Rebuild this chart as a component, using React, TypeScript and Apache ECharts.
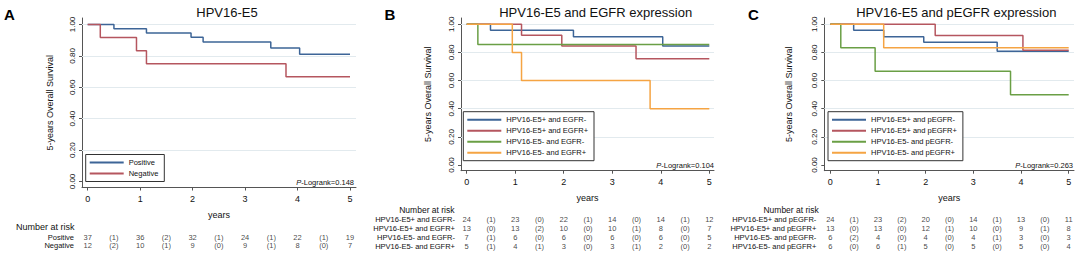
import React, { useEffect, useRef } from 'react';
import * as echarts from 'echarts';

const FONT = '"Liberation Sans", Arial, Helvetica, sans-serif';
const BLUE = '#3d6597';
const RED = '#b5565f';
const GREEN = '#6a9f45';
const ORANGE = '#f5a443';
const AXIS = '#555';
const TXT = '#111';

// ---- axis ticks ----
const xTickValues = [0, 1, 2, 3, 4, 5];
const yTickValues = [0, 0.2, 0.4, 0.6, 0.8, 1];
const gridLineValues = [0.2, 0.4, 0.6, 0.8, 1];

// ---- Panel A: HPV16-E5 ----
const aNames = ['Positive', 'Negative'];
const aPosTimes = [0, 0.5, 1.12, 1.97, 2.2, 3.49, 4.04, 5];
const aPosSurv = [1, 0.973, 0.946, 0.919, 0.889, 0.85, 0.81, 0.81];
const aNegTimes = [0, 0.24, 0.93, 1.12, 3.78, 5];
const aNegSurv = [1, 0.917, 0.833, 0.75, 0.667, 0.667];
const aPosAtRisk = [37, 36, 32, 24, 22, 19];
const aPosEvents = [1, 2, 1, 1, 1];
const aNegAtRisk = [12, 10, 9, 9, 8, 7];
const aNegEvents = [2, 1, 0, 1, 0];

// ---- Panel B: HPV16-E5 and EGFR expression ----
const bNames = ['HPV16-E5+ and EGFR-', 'HPV16-E5+ and EGFR+', 'HPV16-E5- and EGFR-', 'HPV16-E5- and EGFR+'];
const b1Times = [0, 0.49, 2.2, 4.04, 5];
const b1Surv = [1, 0.958, 0.912, 0.845, 0.845];
const b2Times = [0, 1.13, 1.96, 3.49, 5];
const b2Surv = [1, 0.923, 0.846, 0.755, 0.755];
const b3Times = [0, 0.23, 5];
const b3Surv = [1, 0.857, 0.857];
const b4Times = [0, 0.94, 1.13, 3.78, 5];
const b4Surv = [1, 0.8, 0.6, 0.4, 0.4];
const b1AtRisk = [24, 23, 22, 14, 14, 12];
const b1Events = [1, 0, 1, 0, 1];
const b2AtRisk = [13, 13, 10, 10, 8, 7];
const b2Events = [0, 2, 0, 1, 0];
const b3AtRisk = [7, 6, 6, 6, 6, 5];
const b3Events = [1, 0, 0, 0, 0];
const b4AtRisk = [5, 4, 3, 3, 2, 2];
const b4Events = [1, 1, 0, 1, 0];

// ---- Panel C: HPV16-E5 and pEGFR expression ----
const cNames = ['HPV16-E5+ and pEGFR-', 'HPV16-E5+ and pEGFR+', 'HPV16-E5- and pEGFR-', 'HPV16-E5- and pEGFR+'];
const c1Times = [0, 0.49, 1.12, 1.96, 3.5, 5];
const c1Surv = [1, 0.957, 0.912, 0.872, 0.809, 0.809];
const c2Times = [0, 2.2, 4.04, 5];
const c2Surv = [1, 0.92, 0.815, 0.815];
const c3Times = [0, 0.22, 0.94, 3.78, 5];
const c3Surv = [1, 0.833, 0.667, 0.5, 0.5];
const c4Times = [0, 1.12, 5];
const c4Surv = [1, 0.833, 0.833];
const c1AtRisk = [24, 23, 20, 14, 13, 11];
const c1Events = [1, 2, 0, 1, 0];
const c2AtRisk = [13, 13, 12, 10, 9, 8];
const c2Events = [0, 0, 1, 0, 1];
const c3AtRisk = [6, 4, 4, 4, 3, 3];
const c3Events = [2, 0, 0, 1, 0];
const c4AtRisk = [6, 6, 5, 5, 5, 4];
const c4Events = [0, 1, 0, 0, 0];

const aPValue = '0.148';
const bPValue = '0.104';
const cPValue = '0.263';

// ---- layout (pixels) ----
type Layout = {
  axisX: number; x0: number; x5: number; right: number;
  y1: number; y0: number; axisY: number; top: number;
  nameGap: number; riskY: number; riskGap: number; riskMargin: number;
  legendLeft: number; legendTop: number;
  titleX: number; letterX: number; nrRight: number; nrY: number; nrSize: number;
  pRight: number; pY: number;
};

const LA: Layout = {
  axisX: 82, x0: 87.7, x5: 350, right: 356, y1: 24.5, y0: 181.5, axisY: 187.5, top: 18,
  nameGap: 27.5, riskY: 237.3, riskGap: 7.7, riskMargin: 8, legendLeft: 85.7, legendTop: 154.5,
  titleX: 227, letterX: 9.5, nrRight: 74.5, nrY: 227, nrSize: 9, pRight: 354, pY: 182.5,
};
const LB: Layout = {
  axisX: 461, x0: 466.7, x5: 709.3, right: 714, y1: 24.3, y0: 165, axisY: 170.7, top: 18,
  nameGap: 28.5, riskY: 219.3, riskGap: 8.9, riskMargin: 6, legendLeft: 463.3, legendTop: 111.7,
  titleX: 595.7, letterX: 390, nrRight: 454.5, nrY: 210, nrSize: 8.5, pRight: 714, pY: 165.5,
};
const LC: Layout = {
  axisX: 824.3, x0: 830.3, x5: 1068.7, right: 1074, y1: 24.3, y0: 165, axisY: 170.7, top: 18,
  nameGap: 30.5, riskY: 219.3, riskGap: 8.9, riskMargin: 8, legendLeft: 828, legendTop: 111.7,
  titleX: 956.3, letterX: 753.3, nrRight: 818.7, nrY: 210, nrSize: 8.5, pRight: 1073, pY: 165,
};

type Curve = { name: string; times: number[]; surv: number[]; color: string };
type Risk = { label: string; atRisk: number[]; events: number[] };

function buildPanel(L: Layout, idx: number, title: string, letter: string, curves: Curve[], risks: Risk[], p: string) {
  const mi = idx * 2;
  const ri = idx * 2 + 1;
  const perYr = (L.x5 - L.x0) / 5;
  const xmin = -(L.x0 - L.axisX) / perYr;
  const xmax = 5 + (L.right - L.x5) / perYr;
  const perUnit = L.y0 - L.y1;
  const ymin = -(L.axisY - L.y0) / perUnit;
  const ymax = 1 + (L.y1 - L.top) / perUnit;

  const grids = [
    { left: L.axisX, top: L.top, width: L.right - L.axisX, height: L.axisY - L.top },
    { left: L.axisX, top: L.riskY - L.riskGap / 2, width: L.right - L.axisX, height: L.riskGap * risks.length },
  ];
  const xAxes = [
    {
      gridIndex: mi, type: 'value', min: xmin, max: xmax,
      axisLine: { show: true, onZero: false, lineStyle: { color: AXIS, width: 1 } },
      axisTick: { show: true, customValues: xTickValues, length: 3, lineStyle: { color: AXIS } },
      axisLabel: { customValues: xTickValues, margin: 7, fontSize: 9, color: TXT, fontFamily: FONT },
      splitLine: { show: false },
      name: 'years', nameLocation: 'middle', nameGap: 23,
      nameTextStyle: { fontSize: 9, color: TXT, fontFamily: FONT },
    },
    { gridIndex: ri, type: 'value', min: xmin, max: xmax, show: false },
  ];
  const yAxes = [
    {
      gridIndex: mi, type: 'value', min: ymin, max: ymax,
      axisLine: { show: true, onZero: false, lineStyle: { color: AXIS, width: 1 } },
      axisTick: { show: true, customValues: yTickValues, length: 3, lineStyle: { color: AXIS } },
      axisLabel: {
        customValues: yTickValues, rotate: 90, margin: 6, fontSize: 8, color: TXT, fontFamily: FONT,
        formatter: (v: number) => v.toFixed(2),
      },
      splitLine: { show: false },
      name: '5-years Overall Survival', nameLocation: 'middle', nameGap: L.nameGap,
      nameTextStyle: { fontSize: 9, color: TXT, fontFamily: FONT },
    },
    {
      gridIndex: ri, type: 'category', inverse: true, data: risks.map((r) => r.label),
      axisLine: { show: false }, axisTick: { show: false }, splitLine: { show: false },
      axisLabel: { interval: 0, margin: L.riskMargin, fontSize: 7.5, color: TXT, fontFamily: FONT },
    },
  ];

  const series: any[] = [
    {
      type: 'line', xAxisIndex: mi, yAxisIndex: mi, data: [], silent: true, z: 1,
      markLine: {
        z: 1, silent: true, animation: false, symbol: ['none', 'none'], label: { show: false },
        lineStyle: { color: '#e2eaee', width: 1, type: 'solid' },
        data: gridLineValues.map((v) => ({ yAxis: v })),
      },
    },
  ];
  curves.forEach((c) => {
    series.push({
      type: 'line', name: c.name, xAxisIndex: mi, yAxisIndex: mi, step: 'end', symbol: 'none',
      data: c.times.map((t, i) => [t, c.surv[i]]),
      lineStyle: { color: c.color, width: 1.5 }, itemStyle: { color: c.color }, z: 3, silent: true,
    });
  });
  risks.forEach((r, row) => {
    const data: any[] = [];
    r.atRisk.forEach((n, i) => data.push([i, row, String(n)]));
    r.events.forEach((e, i) => data.push([i + 0.5, row, '(' + e + ')']));
    series.push({
      type: 'scatter', xAxisIndex: ri, yAxisIndex: ri, data, symbolSize: 0.1, silent: true,
      itemStyle: { color: 'rgba(0,0,0,0)' },
      label: {
        show: true, position: 'inside', formatter: (pp: any) => pp.value[2],
        fontSize: 7.5, color: TXT, fontFamily: FONT,
      },
    });
  });

  const legend = {
    orient: 'vertical', left: L.legendLeft, top: L.legendTop, data: curves.map((c) => c.name),
    itemWidth: 34, itemHeight: 10, itemGap: 3, padding: [4, 6, 4, 3],
    borderColor: '#333', borderWidth: 1, backgroundColor: '#fff', borderRadius: 0,
    itemStyle: { opacity: 0 },
    textStyle: { fontSize: 7.5, color: TXT, fontFamily: FONT }, selectedMode: false,
  };

  const graphics = [
    { type: 'text', x: L.titleX, y: 12, style: { text: title, fontSize: 13, fontFamily: FONT, fill: TXT, align: 'center', verticalAlign: 'middle' } },
    { type: 'text', x: L.letterX, y: 14.5, style: { text: letter, fontSize: 15, fontWeight: 'bold', fontFamily: FONT, fill: '#000', align: 'center', verticalAlign: 'middle' } },
    { type: 'text', x: L.nrRight, y: L.nrY, style: { text: 'Number at risk', fontSize: L.nrSize, fontFamily: FONT, fill: TXT, align: 'right', verticalAlign: 'middle' } },
    {
      type: 'text', x: L.pRight, y: L.pY,
      style: {
        text: '{i|P}{n|-Logrank=' + p + '}', align: 'right', verticalAlign: 'middle', fill: TXT,
        fontSize: 7.5, fontFamily: FONT,
        rich: {
          i: { fontStyle: 'italic', fontSize: 7.5, fontFamily: FONT, fill: TXT },
          n: { fontSize: 7.5, fontFamily: FONT, fill: TXT },
        },
      },
    },
  ];

  return { grids, xAxes, yAxes, series, legend, graphics };
}

export default function App() {
  const ref = useRef<HTMLDivElement>(null);
  useEffect(() => {
    document.body.style.margin = '0';
    if (!ref.current) return;
    const chart = echarts.init(ref.current, undefined, { renderer: 'svg' });

    const pa = buildPanel(LA, 0, 'HPV16-E5', 'A', [
      { name: aNames[0], times: aPosTimes, surv: aPosSurv, color: BLUE },
      { name: aNames[1], times: aNegTimes, surv: aNegSurv, color: RED },
    ], [
      { label: aNames[0], atRisk: aPosAtRisk, events: aPosEvents },
      { label: aNames[1], atRisk: aNegAtRisk, events: aNegEvents },
    ], aPValue);

    const pb = buildPanel(LB, 1, 'HPV16-E5 and EGFR expression', 'B', [
      { name: bNames[0], times: b1Times, surv: b1Surv, color: BLUE },
      { name: bNames[1], times: b2Times, surv: b2Surv, color: RED },
      { name: bNames[2], times: b3Times, surv: b3Surv, color: GREEN },
      { name: bNames[3], times: b4Times, surv: b4Surv, color: ORANGE },
    ], [
      { label: bNames[0], atRisk: b1AtRisk, events: b1Events },
      { label: bNames[1], atRisk: b2AtRisk, events: b2Events },
      { label: bNames[2], atRisk: b3AtRisk, events: b3Events },
      { label: bNames[3], atRisk: b4AtRisk, events: b4Events },
    ], bPValue);

    const pc = buildPanel(LC, 2, 'HPV16-E5 and pEGFR expression', 'C', [
      { name: cNames[0], times: c1Times, surv: c1Surv, color: BLUE },
      { name: cNames[1], times: c2Times, surv: c2Surv, color: RED },
      { name: cNames[2], times: c3Times, surv: c3Surv, color: GREEN },
      { name: cNames[3], times: c4Times, surv: c4Surv, color: ORANGE },
    ], [
      { label: cNames[0], atRisk: c1AtRisk, events: c1Events },
      { label: cNames[1], atRisk: c2AtRisk, events: c2Events },
      { label: cNames[2], atRisk: c3AtRisk, events: c3Events },
      { label: cNames[3], atRisk: c4AtRisk, events: c4Events },
    ], cPValue);

    const panels = [pa, pb, pc];
    chart.setOption({
      animation: false,
      backgroundColor: '#fff',
      textStyle: { fontFamily: FONT },
      grid: panels.flatMap((p) => p.grids),
      xAxis: panels.flatMap((p) => p.xAxes),
      yAxis: panels.flatMap((p) => p.yAxes),
      series: panels.flatMap((p) => p.series),
      legend: panels.map((p) => p.legend),
      graphic: panels.flatMap((p) => p.graphics),
    } as any);
    return () => chart.dispose();
  }, []);
  return <div ref={ref} style={{ width: 1084, height: 259 }} />;
}
